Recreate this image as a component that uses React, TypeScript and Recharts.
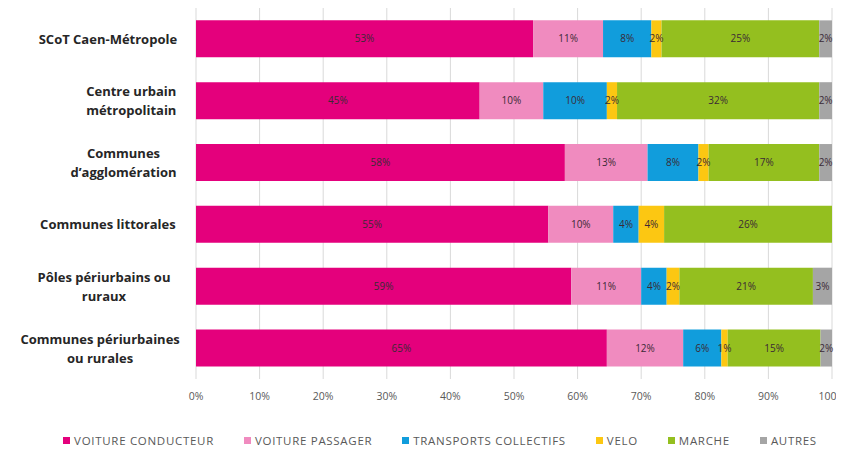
import { Bar, BarChart, CartesianGrid, LabelList, Legend, XAxis, YAxis } from 'recharts'

const territoires = [
  'SCoT Caen-Métropole',
  'Centre urbain|métropolitain',
  'Communes|d’agglomération',
  'Communes littorales',
  'Pôles périurbains ou|ruraux',
  'Communes périurbaines|ou rurales',
]

const voitureConducteur = [53, 44.6, 58, 55.4, 59, 64.6]
const voiturePassager = [11, 10, 13, 10.2, 11, 12]
const transportsCollectifs = [7.6, 10, 8, 4, 4, 6]
const velo = [1.6, 1.6, 1.6, 4, 2, 1]
const marche = [24.8, 31.8, 17.4, 26.4, 21, 14.6]
const autres = [2, 2, 2, 0, 3, 1.8]

const xTicks = [0, 10, 20, 30, 40, 50, 60, 70, 80, 90, 100]

const series = [
  { key: 'vc', name: 'VOITURE CONDUCTEUR', color: '#e4007c' },
  { key: 'vp', name: 'VOITURE PASSAGER', color: '#f08bbf' },
  { key: 'tc', name: 'TRANSPORTS COLLECTIFS', color: '#119ddc' },
  { key: 'velo', name: 'VELO', color: '#fcc712' },
  { key: 'marche', name: 'MARCHE', color: '#94bf1f' },
  { key: 'autres', name: 'AUTRES', color: '#a5a5a5' },
]

const data = territoires.map((name, i) => ({
  name,
  vc: voitureConducteur[i],
  vp: voiturePassager[i],
  tc: transportsCollectifs[i],
  velo: velo[i],
  marche: marche[i],
  autres: autres[i],
}))

const font = 'Open Sans, Noto Sans, sans-serif'

function CategoryTick({ x, y, payload }: { x?: number; y?: number; payload?: { value: string } }) {
  const lines = String(payload?.value ?? '').split('|')
  const longest = Math.max(...lines.map((l) => l.length))
  const cx = (x ?? 0) - 6 - longest * 3.9
  const startY = (y ?? 0) - ((lines.length - 1) * 19) / 2
  return (
    <text
      x={cx}
      y={startY}
      textAnchor="middle"
      dominantBaseline="central"
      fontSize={13}
      fontWeight={700}
      fill="#262626"
      fontFamily={font}
    >
      {lines.map((l, i) => (
        <tspan key={i} x={cx} dy={i === 0 ? 0 : 19}>
          {l}
        </tspan>
      ))}
    </text>
  )
}

function LegendContent() {
  return (
    <div
      style={{
        display: 'flex',
        justifyContent: 'center',
        gap: 30,
        fontFamily: font,
        fontSize: 11.5,
        letterSpacing: 0.7,
        color: '#595959',
        paddingLeft: 40,
      }}
    >
      {series.map((s) => (
        <span key={s.key} style={{ display: 'flex', alignItems: 'center', gap: 4 }}>
          <span style={{ width: 7, height: 7, background: s.color, display: 'inline-block' }} />
          {s.name}
        </span>
      ))}
    </div>
  )
}

const pct = (v: unknown) => {
  const n = Number(v)
  return n >= 0.5 ? `${Math.round(n)}%` : ''
}

export default function App() {
  return (
    <div style={{ width: 836, height: 443, background: '#fff' }}>
      <BarChart
        width={836}
        height={443}
        data={data}
        layout="vertical"
        barCategoryGap="20%"
        margin={{ top: 0, right: 12, left: 0, bottom: 3 }}
      >
        <CartesianGrid horizontal={false} stroke="#d9d9d9" />
        <XAxis
          type="number"
          domain={[0, 100]}
          ticks={xTicks}
          tickFormatter={(v) => `${v}%`}
          axisLine={false}
          tickLine={false}
          tickMargin={8}
          tick={{ fontSize: 10.5, fill: '#595959', fontFamily: font }}
        />
        <YAxis
          type="category"
          dataKey="name"
          width={188}
          axisLine={false}
          tickLine={false}
          tick={<CategoryTick />}
        />
        <Legend verticalAlign="bottom" wrapperStyle={{ paddingTop: 24 }} content={<LegendContent />} />
        {series.map((s) => (
          <Bar
            key={s.key}
            dataKey={s.key}
            name={s.name}
            stackId="a"
            fill={s.color}
            isAnimationActive={false}
          >
            <LabelList
              dataKey={s.key}
              position="center"
              formatter={pct}
              fontSize={10}
              fill="#3b2a35"
              fontFamily={font}
            />
          </Bar>
        ))}
      </BarChart>
    </div>
  )
}
